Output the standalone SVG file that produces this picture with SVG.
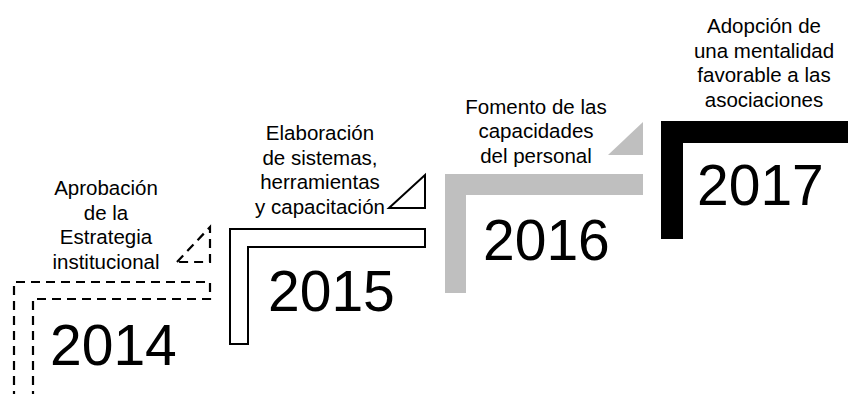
<svg xmlns="http://www.w3.org/2000/svg" width="848" height="394" viewBox="0 0 848 394">
<style>
.lbl{font-family:"Liberation Sans",Arial,sans-serif;font-size:20.5px;fill:#000;text-anchor:middle}
.yr{font-family:"Liberation Sans",Arial,sans-serif;font-size:57px;fill:#000}
.dash{fill:none;stroke:#000;stroke-width:2.2;stroke-dasharray:9 6}
.solid{fill:#fff;stroke:#000;stroke-width:2}
.gray{fill:#bfbfbf;stroke:none}
.black{fill:#000;stroke:none}
</style>
<rect width="848" height="394" fill="#fff"/>
<g id="connectors"></g>
<g id="n2014">
<path class="dash" d="M14,400 L14,282 L210,282 L210,299 L33,299 L33,400"/>
<path class="dash" d="M177,262 L210,227 L210,262 Z"/>
<text class="lbl"><tspan x="106" y="195">Aprobación</tspan><tspan x="106" y="219.5">de la</tspan><tspan x="106" y="244">Estrategia</tspan><tspan x="106" y="268.5">institucional</tspan></text>
<text class="yr" x="50" y="365">2014</text>
</g>
<g id="n2015">
<path class="solid" d="M230,229 L425,229 L425,247 L248,247 L248,344 L230,344 Z"/>
<path class="solid" d="M389,208 L425,175 L425,208 Z"/>
<text class="lbl"><tspan x="320" y="140">Elaboración</tspan><tspan x="320" y="164.5">de sistemas,</tspan><tspan x="320" y="189">herramientas</tspan><tspan x="320" y="213.5">y capacitación</tspan></text>
<text class="yr" x="268" y="311">2015</text>
</g>
<g id="n2016">
<path class="gray" d="M445,174 L643,174 L643,195 L466,195 L466,293 L445,293 Z"/>
<path class="gray" d="M608,155 L643,122 L643,155 Z"/>
<text class="lbl"><tspan x="536" y="113.5">Fomento de las</tspan><tspan x="536" y="138">capacidades</tspan><tspan x="536" y="162.5">del personal</tspan></text>
<text class="yr" x="483" y="260">2016</text>
</g>
<g id="n2017">
<path class="black" d="M661,121 L850,121 L850,143 L683,143 L683,239 L661,239 Z"/>
<text class="lbl"><tspan x="764" y="33">Adopción de</tspan><tspan x="764" y="57.5">una mentalidad</tspan><tspan x="764" y="82">favorable a las</tspan><tspan x="764" y="106.5">asociaciones</tspan></text>
<text class="yr" x="697" y="205">2017</text>
</g>
</svg>
